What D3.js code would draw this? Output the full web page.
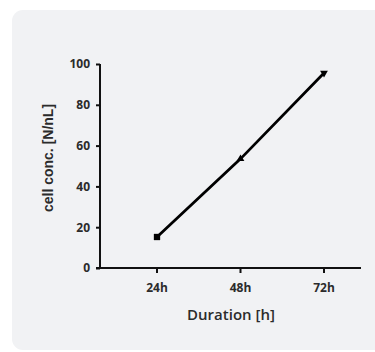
<!DOCTYPE html>
<html>
<head>
<meta charset="utf-8">
<script src="https://cdn.jsdelivr.net/npm/d3@7"></script>
<style>
  html, body { margin: 0; padding: 0; background: #ffffff; overflow: hidden; }
  svg { display: block; }
</style>
</head>
<body>
<svg id="chart" width="375" height="352"></svg>
<script>
// Cell concentration measured at three time points
const durations = ["24h", "48h", "72h"];
const concentrations = [15.2, 53.5, 95.6];
const markerShapes = ["square", "triangle", "triangleDown"];
const yTicks = [0, 20, 40, 60, 80, 100];

const svg = d3.select("#chart");

// Light card behind the plot, running off the right edge
svg.append("rect")
  .attr("x", 12).attr("y", 10)
  .attr("width", 420).attr("height", 340)
  .attr("rx", 11).attr("ry", 11)
  .attr("fill", "#f1f2f4");

const x0 = 100, x1 = 361, yBottom = 268, yTop = 64;

// Categories sit at a fixed spacing, starting one step in from the y axis
const x = d3.scalePoint()
  .domain(durations)
  .range([157, 324]);

const y = d3.scaleLinear().domain([0, 100]).range([yBottom, yTop]);

const textColor = "#2b2b2b";
const tickFont = "'Open Sans', sans-serif";

// Y axis
const yAxis = svg.append("g")
  .attr("transform", `translate(${x0},0)`)
  .call(d3.axisLeft(y).tickValues(yTicks).tickSize(4).tickPadding(6));
yAxis.select(".domain").attr("stroke", "#111").attr("stroke-width", 2)
  .attr("d", `M0,${yBottom + 1}V${yTop}`);
yAxis.selectAll(".tick line").attr("stroke", "#111").attr("stroke-width", 2);
yAxis.selectAll(".tick text")
  .attr("fill", textColor)
  .attr("font-family", tickFont)
  .attr("font-weight", 700)
  .attr("font-size", 12);

// X axis (line runs past the last category)
const xAxisG = svg.append("g").attr("transform", `translate(0,${yBottom})`);
xAxisG.append("line")
  .attr("x1", x0 - 4).attr("x2", x1)
  .attr("y1", 0).attr("y2", 0)
  .attr("stroke", "#111").attr("stroke-width", 2);
const xt = xAxisG.selectAll(".xtick").data(durations).enter().append("g")
  .attr("class", "xtick")
  .attr("transform", d => `translate(${x(d)},0)`);
xt.append("line").attr("y1", 0).attr("y2", 5)
  .attr("stroke", "#111").attr("stroke-width", 2);
xt.append("text")
  .attr("y", 24)
  .attr("text-anchor", "middle")
  .attr("fill", textColor)
  .attr("font-family", tickFont)
  .attr("font-weight", 700)
  .attr("font-size", 12)
  .text(d => d);

// Axis titles
svg.append("text")
  .attr("x", 231).attr("y", 320)
  .attr("text-anchor", "middle")
  .attr("fill", textColor)
  .attr("font-family", "'Open Sans', sans-serif")
  .attr("font-weight", 600)
  .attr("font-size", 15)
  .text("Duration [h]");

svg.append("text")
  .attr("transform", "translate(53,158) rotate(-90)")
  .attr("text-anchor", "middle")
  .attr("fill", textColor)
  .attr("font-family", "'Liberation Sans', Arial, sans-serif")
  .attr("font-weight", 700)
  .attr("font-size", 14)
  .text("cell conc. [N/nL]");

// Data line
const pts = durations.map((d, i) => ({ d, v: concentrations[i], s: markerShapes[i] }));
svg.append("path")
  .datum(pts)
  .attr("fill", "none")
  .attr("stroke", "#000")
  .attr("stroke-width", 2.8)
  .attr("d", d3.line().x(p => x(p.d)).y(p => y(p.v)));

// Markers
const symbolFor = s => s === "square" ? d3.symbolSquare : d3.symbolTriangle;
svg.selectAll(".marker").data(pts).enter().append("path")
  .attr("class", "marker")
  .attr("fill", "#000")
  .attr("transform", p => `translate(${x(p.d)},${y(p.v)})` + (p.s === "triangleDown" ? " rotate(180)" : ""))
  .attr("d", p => d3.symbol().type(symbolFor(p.s)).size(p.s === "square" ? 40 : 26)());
</script>
</body>
</html>
